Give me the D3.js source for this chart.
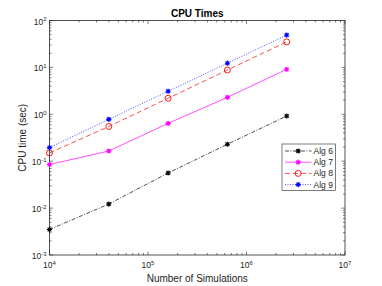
<!DOCTYPE html>
<html>
<head>
<meta charset="utf-8">
<script src="https://cdn.jsdelivr.net/npm/d3@7"></script>
<style>
body { margin: 0; background: #fff; }
svg { font-family: "Liberation Sans", Arial, sans-serif; }
</style>
</head>
<body>
<svg width="382" height="286"></svg>
<script>
const sims = [1e4, 4e4, 1.6e5, 6.4e5, 2.56e6];
const alg6 = [0.0035, 0.0122, 0.056, 0.23, 0.92];
const alg7 = [0.085, 0.165, 0.64, 2.3, 9.1];
const alg8 = [0.15, 0.55, 2.2, 8.8, 35];
const alg9 = [0.195, 0.78, 3.1, 12.3, 49];
const seriesNames = ["Alg 6", "Alg 7", "Alg 8", "Alg 9"];
const xMajor = [4, 5, 6, 7];
const yMajor = [-3, -2, -1, 0, 1, 2];

const series = [
    {name: seriesNames[0], values: alg6, color: "#000000", dash: "4,1.5,1,1.5", marker: "star"},
    {name: seriesNames[1], values: alg7, color: "#ff00ff", dash: null, marker: "star"},
    {name: seriesNames[2], values: alg8, color: "#ff0000", dash: "5,3", marker: "circle"},
    {name: seriesNames[3], values: alg9, color: "#0000ff", dash: "1,1.5", marker: "star"}
];

var plotLeft = 49.5, plotRight = 345, plotTop = 20.5, plotBottom = 255;
var axColor = "#262626";

var x = d3.scaleLog().domain([1e4, 1e7]).range([plotLeft, plotRight]);
var y = d3.scaleLog().domain([1e-3, 1e2]).range([plotBottom, plotTop]);

var svg = d3.select("svg");

function minorTicks(lo, hi) {
    var t = [];
    for (var e = lo; e < hi; e++)
        for (var m = 1; m < 10; m++) t.push(m * Math.pow(10, e));
    t.push(Math.pow(10, hi));
    return t;
}
var xTicks = minorTicks(4, 7);
var yTicks = minorTicks(-3, 2);
function isMajor(v) { return Math.abs(Math.log10(v) - Math.round(Math.log10(v))) < 1e-9; }

// ticks on all four sides
var g = svg.append("g").attr("stroke", axColor).attr("stroke-width", 0.6);
xTicks.forEach(function(v) {
    var len = isMajor(v) ? 3.5 : 2;
    var px = x(v);
    g.append("line").attr("x1", px).attr("x2", px).attr("y1", plotBottom).attr("y2", plotBottom - len);
    g.append("line").attr("x1", px).attr("x2", px).attr("y1", plotTop).attr("y2", plotTop + len);
});
yTicks.forEach(function(v) {
    var len = isMajor(v) ? 3.5 : 2;
    var py = y(v);
    g.append("line").attr("y1", py).attr("y2", py).attr("x1", plotLeft).attr("x2", plotLeft + len);
    g.append("line").attr("y1", py).attr("y2", py).attr("x1", plotRight).attr("x2", plotRight - len);
});
svg.append("rect").attr("x", plotLeft).attr("y", plotTop)
    .attr("width", plotRight - plotLeft).attr("height", plotBottom - plotTop)
    .attr("fill", "none").attr("stroke", axColor).attr("stroke-width", 0.8);

// tick labels
xMajor.forEach(function(e) {
    var t = svg.append("text").attr("x", x(Math.pow(10, e))).attr("y", 268)
        .attr("text-anchor", "middle").attr("font-size", 8.5).attr("fill", axColor);
    t.append("tspan").text("10");
    t.append("tspan").attr("dy", -3.5).attr("font-size", 6).text(e);
});
yMajor.forEach(function(e) {
    var t = svg.append("text").attr("x", plotLeft - 3).attr("y", y(Math.pow(10, e)) + 4)
        .attr("text-anchor", "end").attr("font-size", 8.5).attr("fill", axColor);
    t.append("tspan").text("10");
    t.append("tspan").attr("dy", -3.5).attr("font-size", 6).text(e);
});

svg.append("text").attr("x", (plotLeft + plotRight) / 2).attr("y", 282).attr("text-anchor", "middle")
    .attr("font-size", 10).attr("fill", axColor).text("Number of Simulations");
svg.append("text").attr("transform", "translate(26," + ((plotTop + plotBottom) / 2) + ") rotate(-90)")
    .attr("text-anchor", "middle").attr("font-size", 10).attr("fill", axColor).text("CPU time (sec)");
svg.append("text").attr("x", (plotLeft + plotRight) / 2).attr("y", 17).attr("text-anchor", "middle")
    .attr("font-size", 10).attr("font-weight", "bold").attr("fill", "#000").text("CPU Times");

function drawMarker(sel, type, cx, cy, color) {
    if (type === "circle") {
        sel.append("circle").attr("cx", cx).attr("cy", cy).attr("r", 3)
            .attr("fill", "none").attr("stroke", color).attr("stroke-width", 0.9);
    } else {
        var r = 2.6, d = r * 0.72;
        var p = "M" + (cx - r) + "," + cy + "H" + (cx + r) +
            "M" + cx + "," + (cy - r) + "V" + (cy + r) +
            "M" + (cx - d) + "," + (cy - d) + "L" + (cx + d) + "," + (cy + d) +
            "M" + (cx - d) + "," + (cy + d) + "L" + (cx + d) + "," + (cy - d);
        sel.append("path").attr("d", p).attr("stroke", color).attr("stroke-width", 1.1).attr("fill", "none");
    }
}

var line = d3.line().x(function(d) { return x(d[0]); }).y(function(d) { return y(d[1]); });

series.forEach(function(s) {
    var pts = sims.map(function(v, i) { return [v, s.values[i]]; });
    svg.append("path").attr("d", line(pts)).attr("fill", "none")
        .attr("stroke", s.color).attr("stroke-width", 0.7)
        .attr("stroke-dasharray", s.dash);
    pts.forEach(function(p) { drawMarker(svg, s.marker, x(p[0]), y(p[1]), s.color); });
});

// legend
var lg = svg.append("g");
lg.append("rect").attr("x", 282).attr("y", 144).attr("width", 53.5).attr("height", 46.5)
    .attr("fill", "#fff").attr("stroke", axColor).attr("stroke-width", 0.6);
series.forEach(function(s, i) {
    var ly = 151 + i * 11.2;
    lg.append("line").attr("x1", 285).attr("x2", 311.5).attr("y1", ly).attr("y2", ly)
        .attr("stroke", s.color).attr("stroke-width", 0.7).attr("stroke-dasharray", s.dash);
    drawMarker(lg, s.marker, 298.2, ly, s.color);
    lg.append("text").attr("x", 313.5).attr("y", ly + 3).attr("font-size", 8.5)
        .attr("fill", axColor).text(s.name);
});
</script>
</body>
</html>
